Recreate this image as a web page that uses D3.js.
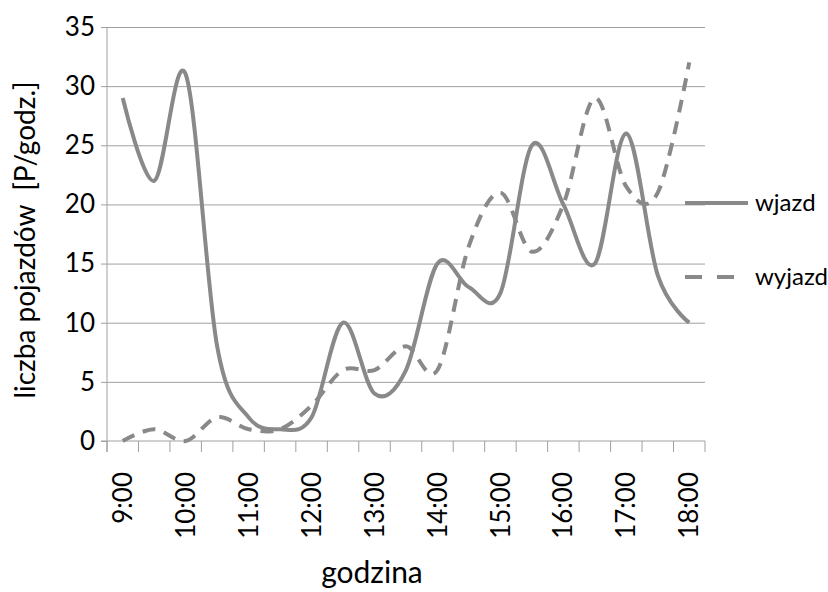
<!DOCTYPE html>
<html>
<head>
<meta charset="utf-8">
<script src="https://cdn.jsdelivr.net/npm/d3@7"></script>
<style>
  body { margin: 0; background: #fff; }
  svg text { font-family: Lato, "Open Sans", sans-serif; fill: #000; }
</style>
</head>
<body>
<div id="chart"></div>
<script>
// half-hour categories, labels shown every hour
const times = ["9:00", "9:30", "10:00", "10:30", "11:00", "11:30", "12:00", "12:30", "13:00", "13:30",
    "14:00", "14:30", "15:00", "15:30", "16:00", "16:30", "17:00", "17:30", "18:00"];
const wjazd = [29, 22, 31, 8, 2, 1, 2, 10, 4, 6, 15, 13, 12.5, 25, 20, 15, 26, 14, 10];
const wyjazd = [0, 1, 0, 2, 1, 1, 3, 6, 6, 8, 6, 16.5, 21, 16, 20, 29, 21.5, 21, 32];
const yTicks = [0, 5, 10, 15, 20, 25, 30, 35];

const W = 828, H = 592;
const margin = { top: 27, right: 123, bottom: 151, left: 107 },
    width = W - margin.left - margin.right,
    height = H - margin.top - margin.bottom;

const lineColor = "#898989";
const gridColor = "#a0a0a0";

const svg = d3.select("#chart").append("svg")
    .attr("width", W)
    .attr("height", H);

const g = svg.append("g")
    .attr("transform", `translate(${margin.left},${margin.top})`);

// scales
const x = d3.scaleBand().domain(times).range([0, width]).padding(0);
const y = d3.scaleLinear().domain([0, 35]).range([height, 0]);
const cx = d => x(d) + x.bandwidth() / 2;

// horizontal gridlines
g.append("g")
    .attr("class", "grid")
    .call(d3.axisLeft(y).tickValues(yTicks.slice(1)).tickSize(-width).tickFormat(""))
    .call(s => s.select(".domain").remove())
    .selectAll("line").attr("stroke", gridColor);

// y axis
g.append("g")
    .attr("class", "y axis")
    .call(d3.axisLeft(y).tickValues(yTicks).tickSize(6).tickPadding(6))
    .call(s => s.select(".domain").attr("stroke", gridColor).attr("d", `M0,0V${height + 11}`))
    .call(s => s.selectAll("line").attr("stroke", gridColor))
    .selectAll("text")
    .style("font-size", "26px");

// x axis: tick marks on category boundaries
const xAxis = g.append("g")
    .attr("class", "x axis")
    .attr("transform", `translate(0,${height})`);

xAxis.append("line")
    .attr("x1", -6).attr("x2", width)
    .attr("stroke", gridColor);

xAxis.selectAll(".bound")
    .data(times.map(d => x(d)).concat([width]))
    .enter().append("line")
    .attr("class", "bound")
    .attr("x1", d => d).attr("x2", d => d)
    .attr("y1", 0).attr("y2", 11)
    .attr("stroke", gridColor);

xAxis.selectAll(".lab")
    .data(times.filter((d, i) => i % 2 === 0))
    .enter().append("text")
    .attr("class", "lab")
    .attr("transform", d => `translate(${cx(d)},31) rotate(-90)`)
    .attr("dy", "0.35em")
    .style("text-anchor", "end")
    .style("font-size", "26px")
    .text(d => d);

// axis titles
svg.append("text")
    .attr("transform", "translate(35,240) rotate(-90)")
    .style("text-anchor", "middle")
    .style("font-size", "28px")
    .style("white-space", "pre")
    .text("liczba pojazdów  [P/godz.]");

svg.append("text")
    .attr("x", 372)
    .attr("y", 583)
    .style("text-anchor", "middle")
    .style("font-size", "30px")
    .text("godzina");

// smoothed lines
const line = d3.line()
    .x(d => cx(d.t))
    .y(d => y(d.v))
    .curve(d3.curveCardinal.tension(0));

const series = [
    { name: "wjazd", values: wjazd, dash: null },
    { name: "wyjazd", values: wyjazd, dash: "13,9" }
];

// draw wyjazd first so wjazd sits on top
series.slice().reverse().forEach(s => {
    g.append("path")
        .datum(times.map((t, i) => ({ t: t, v: s.values[i] })))
        .attr("fill", "none")
        .attr("stroke", lineColor)
        .attr("stroke-width", 4)
        .attr("stroke-linejoin", "round")
        .attr("stroke-dasharray", s.dash)
        .attr("d", line);
});

// legend
const legend = svg.append("g").attr("class", "legend");
const legY = [203, 277];
series.forEach((s, i) => {
    legend.append("line")
        .attr("x1", 685).attr("x2", s.dash ? 734 : 748)
        .attr("y1", legY[i]).attr("y2", legY[i])
        .attr("stroke", lineColor)
        .attr("stroke-width", 4)
        .attr("stroke-dasharray", s.dash ? "17,15" : null);
    legend.append("text")
        .attr("x", 755)
        .attr("y", legY[i])
        .attr("dy", "0.35em")
        .style("font-size", "24px")
        .text(s.name);
});
</script>
</body>
</html>
